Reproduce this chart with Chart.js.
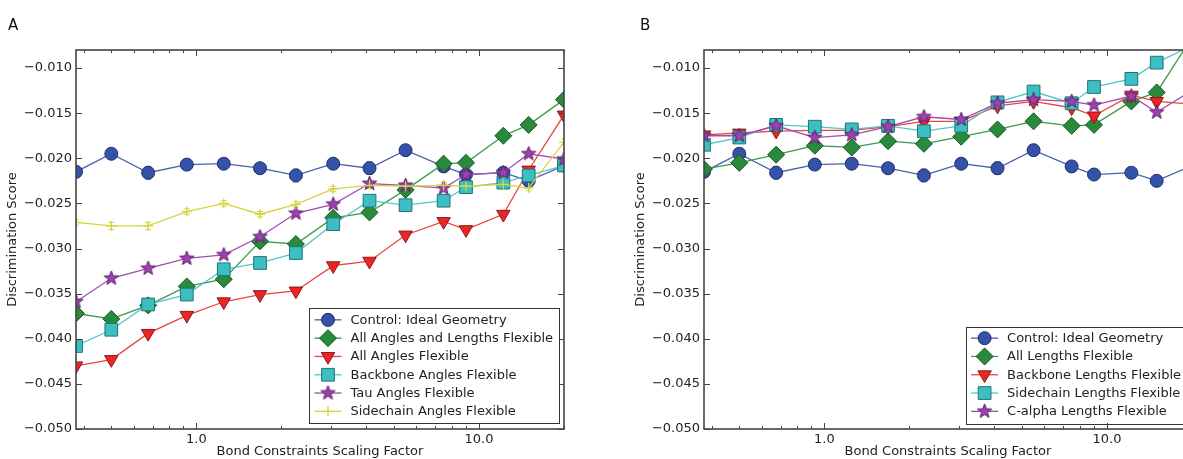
<!DOCTYPE html>
<html><head><meta charset="utf-8">
<script src="https://cdn.jsdelivr.net/npm/chart.js@4.4.0/dist/chart.umd.min.js"></script>
<style>
html,body{margin:0;padding:0;overflow:hidden;background:#fff;width:1183px;height:459px;}
#wrap{position:relative;width:1183px;height:459px;overflow:hidden;}
canvas{position:absolute;top:0;}
#cA{left:0;width:590px;height:459px;}
#cB{left:628px;width:590px;height:459px;}
</style></head><body>
<div id="wrap"><canvas id="cA" width="590" height="459"></canvas><canvas id="cB" width="590" height="459"></canvas></div>
<script>
// ---- data ----
const scalingFactors = [0.375, 0.5, 0.675, 0.925, 1.25, 1.68, 2.25, 3.05, 4.1, 5.5, 7.5, 9.0, 12.2, 15.0, 20.0];
const controlIdeal   = [-0.0215, -0.0195, -0.0216, -0.0207, -0.0206, -0.0211, -0.0219, -0.0206, -0.0211, -0.0191, -0.0209, -0.0218, -0.0216, -0.0225, -0.0208];
const controlErr     = [0.0004, 0.0003, 0.0007, 0.0004, 0.0003, 0.0005, 0.0007, 0.0003, 0.0007, 0.0003, 0.0003, 0.0003, 0.0003, 0.0004, 0.0003];
// panel A
const allAnglesLengths = [-0.0372, -0.0378, -0.0363, -0.0342, -0.0334, -0.0292, -0.0295, -0.0266, -0.0260, -0.0235, -0.0206, -0.0205, -0.0175, -0.0163, -0.0135];
const allAngles        = [-0.0430, -0.0423, -0.0394, -0.0374, -0.0359, -0.0351, -0.0347, -0.0319, -0.0314, -0.0285, -0.0270, -0.0279, -0.0262, -0.0213, -0.0152];
const backboneAngles   = [-0.0408, -0.0390, -0.0362, -0.0351, -0.0323, -0.0316, -0.0305, -0.0273, -0.0247, -0.0252, -0.0247, -0.0232, -0.0227, -0.0219, -0.0208];
const tauAngles        = [-0.0359, -0.0333, -0.0322, -0.0311, -0.0307, -0.0287, -0.0261, -0.0251, -0.0228, -0.0230, -0.0233, -0.0218, -0.0216, -0.0195, -0.0201];
const sidechainAngles  = [-0.0271, -0.0275, -0.0275, -0.0259, -0.0250, -0.0262, -0.0251, -0.0234, -0.0230, -0.0231, -0.0230, -0.0231, -0.0229, -0.0233, -0.0182];
const sidechainAnglesErr = [0.0003, 0.0004, 0.0004, 0.0003, 0.0003, 0.0003, 0.0003, 0.0003, 0.0003, 0.0003, 0.0003, 0.0003, 0.0003, 0.0003, 0.0003];
// panel B
const allLengths        = [-0.0212, -0.0205, -0.0196, -0.0186, -0.0188, -0.0181, -0.0184, -0.0176, -0.0168, -0.0159, -0.0164, -0.0163, -0.0137, -0.0127, -0.0066];
const backboneLengths   = [-0.0174, -0.0172, -0.0170, -0.0169, -0.0169, -0.0165, -0.0159, -0.0159, -0.0142, -0.0137, -0.0144, -0.0153, -0.0130, -0.0137, -0.0140];
const sidechainLengths  = [-0.0185, -0.0177, -0.0163, -0.0165, -0.0168, -0.0164, -0.0170, -0.0164, -0.0138, -0.0126, -0.0139, -0.0121, -0.0112, -0.0094, -0.0075];
const calphaLengths     = [-0.0175, -0.0175, -0.0164, -0.0177, -0.0174, -0.0165, -0.0154, -0.0157, -0.0139, -0.0135, -0.0137, -0.0141, -0.0131, -0.0149, -0.0125];
// ticks
const yTicks = [-0.050, -0.045, -0.040, -0.035, -0.030, -0.025, -0.020, -0.015, -0.010];
const yTickLabels = ['\u22120.050', '\u22120.045', '\u22120.040', '\u22120.035', '\u22120.030', '\u22120.025', '\u22120.020', '\u22120.015', '\u22120.010'];
const xMajorTicks = [1, 10];
const xTickLabels = ['1.0', '10.0'];
const xMinorTicks = [0.4, 0.5, 0.6, 0.7, 0.8, 0.9, 2, 3, 4, 5, 6, 7, 8, 9, 20];
const yTitle = 'Discrimination Score';
const xTitle = 'Bond Constraints Scaling Factor';

// ---- styles ----
const FONT = '"DejaVu Sans", "Liberation Sans", sans-serif';
const FS = 13;
function makeStar(fill, edge, r) {
  const s = Math.ceil(r * 2 + 4);
  const c = document.createElement('canvas'); c.width = s; c.height = s;
  const g = c.getContext('2d');
  g.beginPath();
  for (let k = 0; k < 10; k++) {
    const rr = k % 2 === 0 ? r : r * 0.42;
    const a = -Math.PI / 2 + k * Math.PI / 5;
    g.lineTo(s / 2 + rr * Math.cos(a), s / 2 + rr * Math.sin(a));
  }
  g.closePath(); g.fillStyle = fill; g.fill();
  g.strokeStyle = edge; g.lineWidth = 1; g.stroke();
  return c;
}
const ST = {
  control: {line: '#4a5fae', fill: '#3452a8', edge: '#1f2f6b', shape: 'circle', r: 6.5},
  green:   {line: '#3a9a4a', fill: '#2a8a3c', edge: '#1a5526', shape: 'rectRot', r: 8.5},
  red:     {line: '#e8443e', fill: '#ee2424', edge: '#8b1a1a', shape: 'triangle', rot: 180, r: 7.8},
  cyan:    {line: '#55c5c8', fill: '#3cbfc2', edge: '#217377', shape: 'rect', r: 9},
  purple:  {line: '#a24bb0', fill: '#9f3fb0', edge: '#5a2266', shape: makeStar('#9f3fb0', '#5a2266', 7.5), r: 7.5},
  yellow:  {line: '#d4d440', fill: '#d4d440', edge: '#d4d440', shape: 'cross', r: 5}
};
function ds(label, data, st, errors) {
  return {
    label, data: data.map((v, i) => ({x: scalingFactors[i], y: v})),
    errors: errors || null,
    borderColor: st.line, backgroundColor: st.fill, borderWidth: 1.3,
    pointStyle: st.shape, pointRadius: st.r, pointHoverRadius: st.r,
    pointRotation: st.rot || 0,
    pointBackgroundColor: st.fill, pointBorderColor: st.edge, pointBorderWidth: st.shape === 'cross' ? 1.3 : 1,
    tension: 0, clip: 0, showLine: true
  };
}

// ---- plugins ----
function drawMarker(ctx, d, x, y) {
  const st = d.pointStyle, r = d.pointRadius;
  ctx.save();
  ctx.fillStyle = d.pointBackgroundColor; ctx.strokeStyle = d.pointBorderColor; ctx.lineWidth = d.pointBorderWidth;
  if (st instanceof HTMLCanvasElement) { ctx.drawImage(st, x - st.width / 2, y - st.height / 2); ctx.restore(); return; }
  ctx.beginPath();
  if (st === 'circle') ctx.arc(x, y, r, 0, Math.PI * 2);
  else if (st === 'rectRot') { ctx.moveTo(x - r, y); ctx.lineTo(x, y - r); ctx.lineTo(x + r, y); ctx.lineTo(x, y + r); ctx.closePath(); }
  else if (st === 'rect') { const s = r * Math.SQRT1_2; ctx.rect(x - s, y - s, 2 * s, 2 * s); }
  else if (st === 'triangle') { const h = r; ctx.moveTo(x, y + h); ctx.lineTo(x - h * 0.866, y - h / 2); ctx.lineTo(x + h * 0.866, y - h / 2); ctx.closePath(); }
  else if (st === 'cross') { ctx.moveTo(x - r, y); ctx.lineTo(x + r, y); ctx.moveTo(x, y - r); ctx.lineTo(x, y + r); ctx.stroke(); ctx.restore(); return; }
  ctx.fill(); ctx.stroke(); ctx.restore();
}
const errorPlugin = {
  id: 'errbars',
  beforeDatasetsDraw(chart) {
    const ctx = chart.ctx, xs = chart.scales.x, ys = chart.scales.y, ca = chart.chartArea;
    ctx.save();
    ctx.beginPath(); ctx.rect(ca.left, ca.top, ca.right - ca.left, ca.bottom - ca.top); ctx.clip();
    chart.data.datasets.forEach(d => {
      if (!d.errors) return;
      ctx.strokeStyle = d.borderColor; ctx.lineWidth = 1;
      d.data.forEach((p, i) => {
        const e = d.errors[i];
        const px = xs.getPixelForValue(p.x), y1 = ys.getPixelForValue(p.y - e), y2 = ys.getPixelForValue(p.y + e);
        ctx.beginPath();
        ctx.moveTo(px, y1); ctx.lineTo(px, y2);
        ctx.moveTo(px - 3, y1); ctx.lineTo(px + 3, y1);
        ctx.moveTo(px - 3, y2); ctx.lineTo(px + 3, y2);
        ctx.stroke();
      });
    });
    ctx.restore();
  }
};
const framePlugin = {
  id: 'frame',
  afterDatasetsDraw(chart, args, opts) {
    const ctx = chart.ctx, ca = chart.chartArea, xs = chart.scales.x, ys = chart.scales.y;
    ctx.save();
    ctx.strokeStyle = '#444'; ctx.lineWidth = 1;
    ctx.beginPath();
    yTicks.forEach(v => {
      const py = Math.round(ys.getPixelForValue(v)) + 0.5;
      ctx.moveTo(ca.left, py); ctx.lineTo(ca.left + 6, py);
      ctx.moveTo(ca.right, py); ctx.lineTo(ca.right - 6, py);
    });
    xMajorTicks.forEach(v => {
      const px = Math.round(xs.getPixelForValue(v)) + 0.5;
      ctx.moveTo(px, ca.bottom); ctx.lineTo(px, ca.bottom - 6);
      ctx.moveTo(px, ca.top); ctx.lineTo(px, ca.top + 6);
    });
    xMinorTicks.forEach(v => {
      const px = Math.round(xs.getPixelForValue(v)) + 0.5;
      ctx.moveTo(px, ca.bottom); ctx.lineTo(px, ca.bottom - 3);
      ctx.moveTo(px, ca.top); ctx.lineTo(px, ca.top + 3);
    });
    ctx.stroke();
    ctx.lineWidth = 1.6; ctx.strokeStyle = '#444';
    ctx.strokeRect(ca.left, ca.top, ca.right - ca.left, ca.bottom - ca.top);
    // panel letter
    ctx.fillStyle = '#111'; ctx.font = '15px ' + FONT; ctx.textBaseline = 'alphabetic'; ctx.textAlign = 'left';
    ctx.fillText(opts.letter, opts.letterX, 30);
    ctx.restore();
  }
};
const legendPlugin = {
  id: 'mplLegend',
  afterDatasetsDraw(chart) {
    const ctx = chart.ctx, ca = chart.chartArea, dss = chart.data.datasets;
    ctx.save();
    ctx.font = FS + 'px ' + FONT;
    const maxW = Math.max(...dss.map(d => ctx.measureText(d.label).width));
    const rowH = 18.3;
    const w = 41 + maxW + 6, h = dss.length * rowH + 5;
    const right = ca.right - 5, bottom = ca.bottom - 6;
    const left = right - w, top = bottom - h;
    ctx.fillStyle = '#fff'; ctx.fillRect(left, top, w, h);
    ctx.strokeStyle = '#333'; ctx.lineWidth = 1; ctx.strokeRect(Math.round(left) + 0.5, Math.round(top) + 0.5, Math.round(w), Math.round(h));
    dss.forEach((d, i) => {
      const cy = top + 2.5 + rowH * (i + 0.5);
      ctx.strokeStyle = d.borderColor; ctx.lineWidth = d.borderWidth;
      ctx.beginPath(); ctx.moveTo(left + 5, cy); ctx.lineTo(left + 32, cy); ctx.stroke();
      drawMarker(ctx, d, left + 18.5, cy);
      ctx.fillStyle = '#222'; ctx.textBaseline = 'middle'; ctx.textAlign = 'left';
      ctx.font = FS + 'px ' + FONT;
      ctx.fillText(d.label, left + 41, cy + 0.5);
    });
    ctx.restore();
  }
};

function makeChart(id, datasets, letter, letterX) {
  const n = datasets.length;
  datasets.forEach((d, i) => { d.order = n - i; });
  return new Chart(document.getElementById(id), {
    type: 'line',
    data: {datasets},
    options: {
      responsive: false, animation: false, events: [],
      layout: {padding: {top: 50, right: 26, left: 0, bottom: 0}},
      plugins: {legend: {display: false}, tooltip: {enabled: false}, frame: {letter, letterX}},
      scales: {
        x: {
          type: 'logarithmic', min: 0.375, max: 20,
          afterBuildTicks: s => { s.ticks = xMajorTicks.map(v => ({value: v})); },
          afterFit: s => { s.height = 30; },
          grid: {display: false, drawTicks: false}, border: {display: false},
          ticks: {autoSkip: false, maxRotation: 0, padding: 3, color: '#222', font: {family: FONT, size: FS},
            callback: (v) => xTickLabels[xMajorTicks.indexOf(v)] ?? ''},
          title: {display: true, text: xTitle, color: '#222', font: {family: FONT, size: FS}, padding: {top: 0, bottom: 0}}
        },
        y: {
          type: 'linear', min: -0.050, max: -0.008,
          afterBuildTicks: s => { s.ticks = yTicks.map(v => ({value: v})); },
          afterFit: s => { s.width = 76; },
          grid: {display: false, drawTicks: false}, border: {display: false},
          ticks: {padding: 4, color: '#222', font: {family: FONT, size: FS},
            callback: (v) => { const i = yTicks.findIndex(t => Math.abs(t - v) < 1e-9); return i >= 0 ? yTickLabels[i] : ''; }},
          title: {display: true, text: yTitle, color: '#222', font: {family: FONT, size: FS}, padding: {top: 5, bottom: 0}}
        }
      }
    },
    plugins: [errorPlugin, framePlugin, legendPlugin]
  });
}

makeChart('cA', [
  ds('Control: Ideal Geometry', controlIdeal, ST.control, controlErr),
  ds('All Angles and Lengths Flexible', allAnglesLengths, ST.green),
  ds('All Angles Flexible', allAngles, ST.red),
  ds('Backbone Angles Flexible', backboneAngles, ST.cyan),
  ds('Tau Angles Flexible', tauAngles, ST.purple),
  ds('Sidechain Angles Flexible', sidechainAngles, ST.yellow, sidechainAnglesErr)
], 'A', 8);

makeChart('cB', [
  ds('Control: Ideal Geometry', controlIdeal, ST.control, controlErr),
  ds('All Lengths Flexible', allLengths, ST.green),
  ds('Backbone Lengths Flexible', backboneLengths, ST.red),
  ds('Sidechain Lengths Flexible', sidechainLengths, ST.cyan),
  ds('C-alpha Lengths Flexible', calphaLengths, ST.purple)
], 'B', 12);
</script>
</body></html>
